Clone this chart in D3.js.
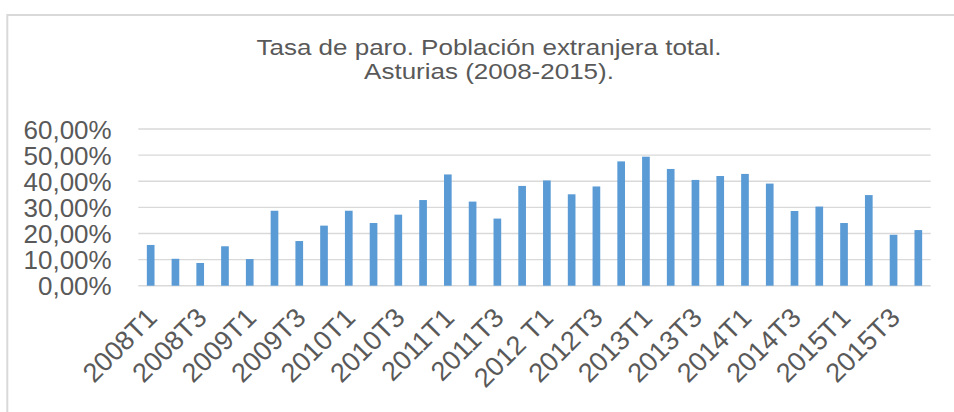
<!DOCTYPE html>
<html>
<head>
<meta charset="utf-8">
<script src="https://cdn.jsdelivr.net/npm/d3@7/dist/d3.min.js"></script>
<style>
  html, body { margin: 0; padding: 0; background: #ffffff; }
  svg { display: block; }
  text { font-family: "Liberation Sans", Arial, sans-serif; fill: #595959; }
</style>
</head>
<body>
<svg id="chart" width="954" height="412"></svg>
<script>
const titleLines = ["Tasa de paro. Población extranjera total.", "Asturias (2008-2015)."];
const categories = [
  "2008T1","2008T2","2008T3","2008T4",
  "2009T1","2009T2","2009T3","2009T4",
  "2010T1","2010T2","2010T3","2010T4",
  "2011T1","2011T2","2011T3","2011T4",
  "2012 T1","2012T2","2012T3","2012T4",
  "2013T1","2013T2","2013T3","2013T4",
  "2014T1","2014T2","2014T3","2014T4",
  "2015T1","2015T2","2015T3","2015T4"
];
const values = [
  15.6, 10.3, 8.7, 15.1,
  10.2, 28.7, 17.1, 23.0,
  28.7, 24.0, 27.2, 32.8,
  42.6, 32.2, 25.7, 38.2,
  40.3, 35.0, 38.0, 47.6,
  49.4, 44.7, 40.5, 42.0,
  42.8, 39.1, 28.6, 30.3,
  24.0, 34.7, 19.5, 21.3
];
const yTicks = [0, 10, 20, 30, 40, 50, 60];

const svg = d3.select("#chart");

// chart area border
svg.append("rect")
  .attr("x", 7.3).attr("y", 15)
  .attr("width", 1000).attr("height", 500)
  .attr("fill", "none").attr("stroke", "#d9d9d9").attr("stroke-width", 2);

const plot = { left: 138.3, right: 930.7, top: 129, bottom: 285.7 };

const x = d3.scaleBand().domain(categories)
  .range([plot.left, plot.right]).paddingInner(0.69).paddingOuter(0.345);
const y = d3.scaleLinear().domain([0, 60]).range([plot.bottom, plot.top]);

// title (slightly flattened, as in the reference)
const sy = 0.88;
const title = svg.append("g").attr("transform", `translate(489,0) scale(1,${sy})`)
  .append("text").attr("text-anchor", "middle").style("font-size", "26px");
titleLines.forEach((t, i) => {
  title.append("tspan").attr("x", 0).attr("y", (55 + i * 24) / sy).text(t);
});

// gridlines
svg.append("g").selectAll("line").data(yTicks).join("line")
  .attr("x1", plot.left).attr("x2", plot.right)
  .attr("y1", d => y(d)).attr("y2", d => y(d))
  .attr("stroke", "#d9d9d9").attr("stroke-width", 1.4);

// y axis labels
const yAxis = d3.axisLeft(y).tickValues(yTicks)
  .tickFormat(d => d3.format(".2f")(d).replace(".", ",") + "%")
  .tickSize(0).tickPadding(0);
const gy = svg.append("g").attr("transform", `translate(111.7,0)`).call(yAxis);
gy.select(".domain").remove();
gy.selectAll("text").style("font-size", "26px").attr("fill", "#595959")
  .attr("dy", "0.35em").attr("font-family", "Liberation Sans, Arial, sans-serif");

// bars
svg.append("g").selectAll("rect").data(values).join("rect")
  .attr("x", (d, i) => x(categories[i]))
  .attr("width", x.bandwidth())
  .attr("y", d => y(d))
  .attr("height", d => y(0) - y(d))
  .attr("fill", "#5b9bd5");

// x labels (every other category)
const xAxis = d3.axisBottom(x)
  .tickValues(categories.filter((c, i) => i % 2 === 0))
  .tickSize(0).tickPadding(0);
const gx = svg.append("g").attr("transform", `translate(0,${plot.bottom})`).call(xAxis);
gx.select(".domain").remove();
gx.selectAll("text")
  .style("font-size", "27px").attr("fill", "#595959")
  .attr("font-family", "Liberation Sans, Arial, sans-serif")
  .attr("text-anchor", "end")
  .attr("x", 0).attr("y", 0).attr("dy", "0.71em")
  .attr("transform", "translate(-5.5,20) rotate(-45)");
</script>
</body>
</html>
